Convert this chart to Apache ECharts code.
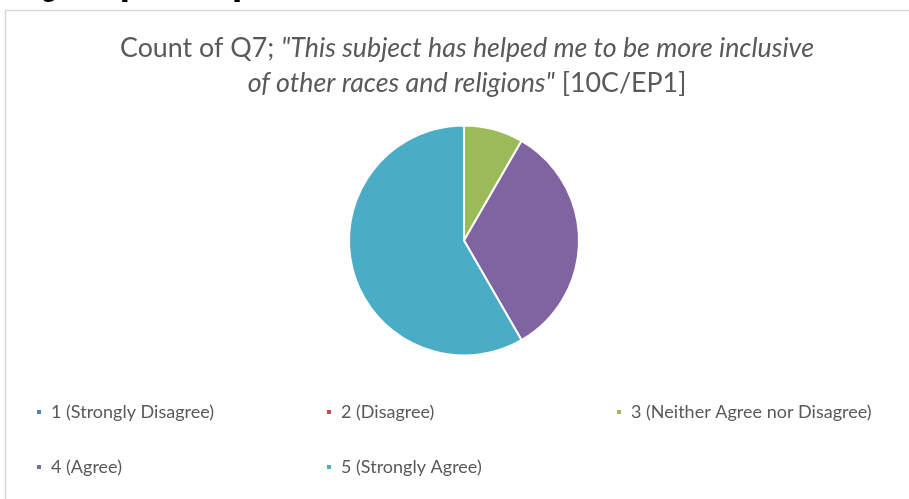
<!DOCTYPE html>
<html>
<head>
<meta charset="utf-8">
<script src="https://cdn.jsdelivr.net/npm/echarts@6/dist/echarts.min.js"></script>
<style>
  html, body { margin: 0; padding: 0; background: #fff; }
  #chart { width: 909px; height: 499px; }
</style>
</head>
<body>
<div id="chart"></div>
<script>
// Response categories for Q7 and their counts
const categories = [
  '1 (Strongly Disagree)',
  '2 (Disagree)',
  '3 (Neither Agree nor Disagree)',
  '4 (Agree)',
  '5 (Strongly Agree)'
];
const counts = [0, 0, 1, 4, 7];
const colors = ['#4F81BD', '#C0504D', '#9BBB59', '#8064A2', '#4BACC6'];

// Legend columns (each column stacks its items vertically)
const legendColumns = [
  [categories[0], categories[3]],
  [categories[1], categories[4]],
  [categories[2]]
];
const legendLefts = [35, 325, 615];

const FONT = 'Lato, "Open Sans", sans-serif';
const GREY = '#595959';

const chart = echarts.init(document.getElementById('chart'), null, { renderer: 'canvas' });

const legendTextStyle = { color: GREY, fontSize: 18, fontFamily: FONT, padding: [0, 0, 0, 4] };

chart.setOption({
  backgroundColor: '#ffffff',
  animation: false,
  color: colors,
  title: {
    left: 462,
    textAlign: 'center',
    top: 26,
    text: '{n|Count of Q7; }{i|"This subject has helped me to be more inclusive}\n{i|of other races and religions"}{n| [10C/EP1]}',
    textStyle: {
      fontWeight: 'normal',
      rich: {
        n: { fontFamily: FONT, fontSize: 26.8, fontWeight: 'normal', color: GREY, lineHeight: 35 },
        i: { fontFamily: FONT, fontSize: 26.8, fontWeight: 'normal', color: GREY, fontStyle: 'italic', lineHeight: 35 }
      }
    }
  },
  legend: legendColumns.map((col, k) => ({
    orient: 'vertical',
    left: legendLefts[k],
    top: 403,
    padding: 0,
    itemGap: 37,
    itemWidth: 6,
    itemHeight: 6,
    icon: 'rect',
    selectedMode: false,
    data: col,
    textStyle: legendTextStyle
  })),
  graphic: [
    {
      type: 'rect',
      silent: true,
      shape: { x: 5.5, y: 10.5, width: 1000, height: 1000 },
      style: { fill: null, stroke: '#D9D9D9', lineWidth: 1.5 }
    },
    {
      type: 'text',
      silent: true,
      x: 21, y: -23,
      style: { text: 'Figure', font: 'bold 26px ' + FONT, fill: '#000' }
    },
    {
      type: 'text',
      silent: true,
      x: 120, y: -23,
      style: { text: '[10C/EP1]', font: 'bold 26px ' + FONT, fill: '#000' }
    }
  ],
  series: [{
    type: 'pie',
    center: [464, 240.5],
    radius: 115,
    startAngle: 90,
    clockwise: true,
    label: { show: false },
    labelLine: { show: false },
    emphasis: { disabled: true },
    itemStyle: { borderColor: '#ffffff', borderWidth: 2 },
    data: categories.map((name, i) => ({ name: name, value: counts[i] }))
  }]
});
</script>
</body>
</html>
